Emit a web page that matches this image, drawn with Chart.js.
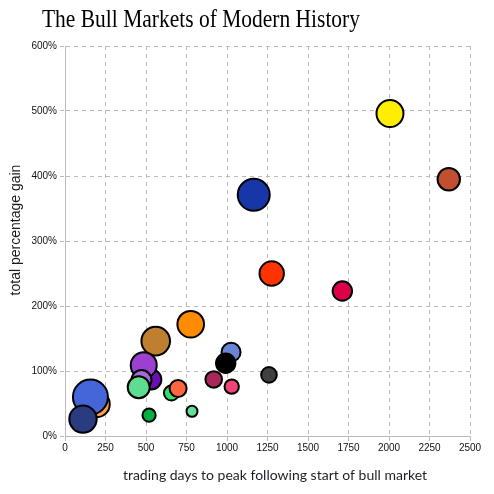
<!DOCTYPE html>
<html>
<head>
<meta charset="utf-8">
<script src="https://cdn.jsdelivr.net/npm/chart.js@4.4.0/dist/chart.umd.min.js"></script>
<style>
  body { margin: 0; background: #fff; }
  #wrap { width: 494px; height: 494px; position: relative; }
</style>
</head>
<body>
<div id="wrap"><canvas id="bullChart"></canvas></div>
<script>
// trading days to peak / total % gain / bubble size, one entry per bull market
const days  = [196, 157, 111, 519, 784, 657, 698, 560, 776, 533, 486, 472, 455, 918, 1029, 1025, 992, 1259, 1165, 1276, 1712, 2006, 2369];
const gains = [49, 60, 26, 32, 38, 66, 73, 146, 172, 87, 109, 86, 75, 87, 76, 129, 112, 94, 371, 250, 223, 496, 395];
const sizes = [13, 17.5, 13.7, 6.6, 5.5, 7.5, 8.5, 14.3, 13.3, 10, 13, 10, 11, 8.3, 7.2, 9.5, 9.7, 7.8, 16, 12.2, 9.7, 13.5, 11.2];
const colors = ['#ffa040', '#4466d8', '#2a3c80', '#00b040', '#66dd99', '#33dd66', '#ff6640', '#bf7f30', '#ff8c00',
                '#6a0fb0', '#9b40d0', '#a36ad8', '#5edd90', '#a8285a', '#ee4477', '#6a85d5', '#000000', '#404040',
                '#1737a8', '#ff3300', '#dd0048', '#ffee00', '#c0502f'];

const xTicks = [0, 250, 500, 750, 1000, 1250, 1500, 1750, 2000, 2250, 2500];
const yTicks = [0, 100, 200, 300, 400, 500, 600];

const chartTitle = 'The Bull Markets of Modern History';
const xTitle = 'trading days to peak following start of bull market';
const yTitle = 'total percentage gain';

const points = days.map((d, i) => ({ x: d, y: gains[i], r: sizes[i] }));

const gridColor = '#bbbbbb';

// titles drawn by hand so they land where the original puts them
const textPlugin = {
  id: 'texts',
  afterDraw(chart) {
    const c = chart.ctx;
    c.save();
    c.fillStyle = '#000';
    c.font = '25px "Liberation Serif"';
    c.textBaseline = 'alphabetic';
    const w = c.measureText(chartTitle).width;
    c.translate(42, 27);
    c.scale(318 / w, 1);
    c.fillText(chartTitle, 0, 0);
    c.restore();

    c.save();
    c.fillStyle = '#1e1e28';
    c.font = '14px Lato';
    c.textAlign = 'center';
    c.textBaseline = 'alphabetic';
    c.fillText(xTitle, 275, 480);
    c.restore();

    c.save();
    c.fillStyle = '#1a1a1a';
    c.font = '14px "Liberation Sans"';
    c.textAlign = 'center';
    c.textBaseline = 'alphabetic';
    c.translate(20, 230);
    c.rotate(-Math.PI / 2);
    c.fillText(yTitle, 0, 0);
    c.restore();
  }
};

new Chart(document.getElementById('bullChart'), {
  type: 'bubble',
  data: {
    datasets: [{
      data: points,
      backgroundColor: colors,
      borderColor: '#000',
      borderWidth: 2
    }]
  },
  options: {
    responsive: true,
    maintainAspectRatio: false,
    animation: false,
    layout: { padding: { left: 0, right: 24, top: 46, bottom: 0 } },
    plugins: {
      legend: { display: false },
      tooltip: { enabled: false }
    },
    scales: {
      x: {
        type: 'linear',
        min: 0,
        max: 2500,
        afterBuildTicks: (s) => { s.ticks = xTicks.map(v => ({ value: v })); },
        afterFit: (s) => { s.height = 58; },
        grid: { color: gridColor, tickLength: 5, tickBorderDash: [4, 4] },
        border: { color: gridColor, dash: [4, 4] },
        ticks: {
          color: '#111',
          padding: 1,
          font: { family: 'Liberation Sans', size: 10 },
          callback: (v) => String(v)
        }
      },
      y: {
        type: 'linear',
        min: 0,
        max: 600,
        afterBuildTicks: (s) => { s.ticks = yTicks.map(v => ({ value: v })); },
        afterFit: (s) => { s.width = 65; },
        grid: { color: gridColor, tickLength: 5, tickBorderDash: [4, 4] },
        border: { color: gridColor, dash: [4, 4] },
        ticks: {
          color: '#111',
          padding: 3,
          font: { family: 'Liberation Sans', size: 10 },
          callback: (v) => v + '%'
        }
      }
    }
  },
  plugins: [textPlugin]
});
</script>
</body>
</html>
